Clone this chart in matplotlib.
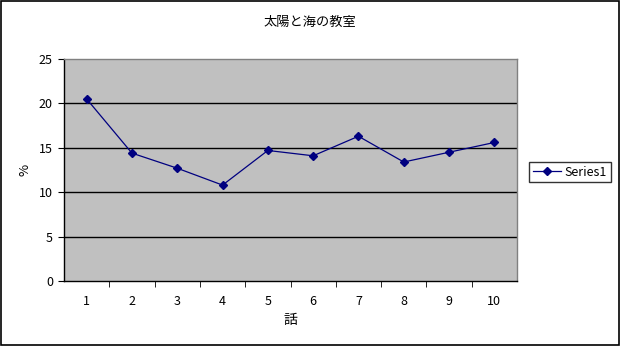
import matplotlib
matplotlib.use("Agg")
import matplotlib.pyplot as plt
from matplotlib.patches import Rectangle
from matplotlib.ticker import FixedLocator, NullFormatter

plt.rcParams['font.family'] = ['Noto Sans CJK JP', 'DejaVu Sans']

title = "太陽と海の教室"
episodes = [1, 2, 3, 4, 5, 6, 7, 8, 9, 10]
ratings = [20.5, 14.4, 12.7, 10.8, 14.7, 14.1, 16.3, 13.4, 14.5, 15.6]
yticks = [0, 5, 10, 15, 20, 25]
series_name = "Series1"

fig = plt.figure(figsize=(6.2, 3.46), dpi=100)
fig.patch.set_facecolor('white')
fig.add_artist(Rectangle((0.001, 0.002), 0.997, 0.995, transform=fig.transFigure,
                         fill=False, edgecolor='black', linewidth=1.2))

ax = fig.add_axes([64/620, (346-281)/346, (517-64)/620, (281-59)/346])
ax.set_facecolor('#C0C0C0')
ax.plot(episodes, ratings, color='#000080', linewidth=0.9, marker='D', markersize=4.5,
        markerfacecolor='#000080', markeredgecolor='#000080', label=series_name)

ax.set_xlim(0.5, 10.5)
ax.set_ylim(0, 25)
ax.set_yticks(yticks)
for y in yticks[1:-1]:
    ax.axhline(y, color='black', linewidth=1.0, zorder=0.5)

ax.set_xticks(episodes)
ax.xaxis.set_minor_locator(FixedLocator([i + 0.5 for i in episodes[:-1]]))
ax.xaxis.set_minor_formatter(NullFormatter())
ax.tick_params(axis='x', which='major', length=0, pad=10, labelsize=9)
ax.tick_params(axis='x', which='minor', length=4, direction='out', color='black')
ax.tick_params(axis='y', length=4, direction='out', labelsize=9, pad=4)

for s in ['top', 'right']:
    ax.spines[s].set_color('#808080')
    ax.spines[s].set_linewidth(1.0)
for s in ['left', 'bottom']:
    ax.spines[s].set_color('black')
    ax.spines[s].set_linewidth(1.0)

fig.text(310/620, 1 - 22/346, title, ha='center', va='center', fontsize=9.5)
fig.text(25/620, 1 - 170/346, "%", ha='center', va='center', fontsize=9.5, rotation=90)
fig.text(290/620, 1 - 320/346, "話", ha='center', va='center', fontsize=10)

leg = fig.legend(loc='center', bbox_to_anchor=(570/620, 1 - 172/346), fontsize=9,
                 frameon=True, fancybox=False, handlelength=2.2, borderpad=0.3,
                 handletextpad=0.3, borderaxespad=0)
leg.get_frame().set_edgecolor('black')
leg.get_frame().set_linewidth(1.0)

fig.savefig("out.png", dpi=100)
